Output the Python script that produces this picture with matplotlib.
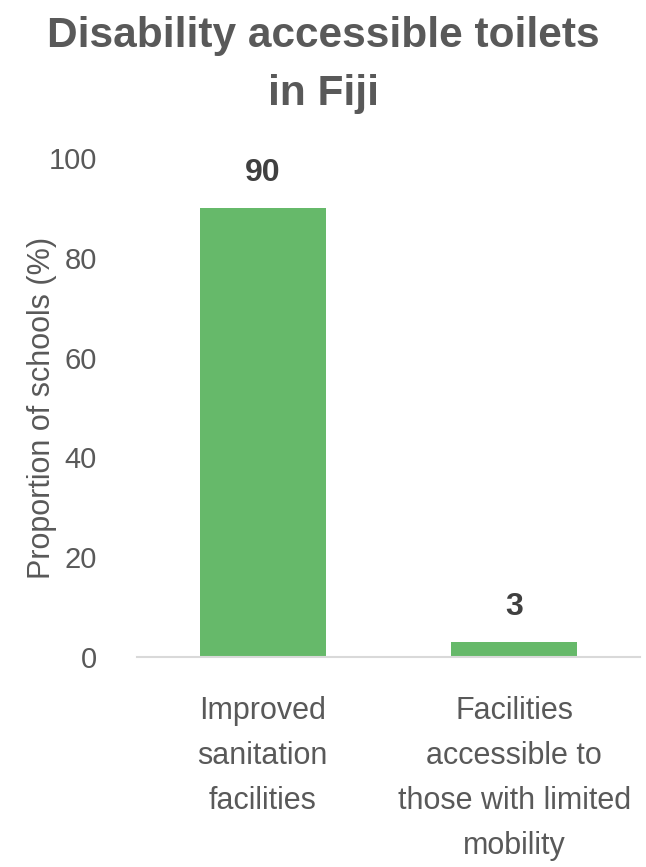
import matplotlib
matplotlib.use('Agg')
import matplotlib.pyplot as plt

categories = ['Improved\nsanitation\nfacilities',
              'Facilities\naccessible to\nthose with limited\nmobility']
values = [90, 3]
y_ticks = [0, 20, 40, 60, 80, 100]

plt.rcParams['font.family'] = ['Liberation Sans', 'DejaVu Sans']

fig = plt.figure(figsize=(6.46, 8.67), dpi=100)
ax = fig.add_axes([137 / 646, 1 - 657 / 867, 503 / 646, 499 / 867])

x = range(len(values))
ax.bar(x, values, width=0.5, color='#66b96a')
for xx, yy in zip(x, values):
    ax.text(xx, yy + 4.0, str(yy), ha='center', va='bottom', fontsize=23,
            fontweight='bold', color='#404040')

ax.set_xlim(-0.5, 1.5)
ax.set_ylim(0, 100)
ax.set_yticks(y_ticks)
ax.set_xticks(list(x))
ax.set_xticklabels(categories, fontsize=22, color='#595959', linespacing=1.65, va='top')
ax.tick_params(axis='y', labelsize=21, labelcolor='#595959', length=0, pad=29)
ax.tick_params(axis='x', length=0, pad=28)
ax.set_ylabel('Proportion of schools (%)', fontsize=22, color='#595959')
ax.yaxis.set_label_coords(-0.16, 0.5)

for s in ['top', 'right', 'left']:
    ax.spines[s].set_visible(False)
ax.spines['bottom'].set_color('#d9d9d9')
ax.spines['bottom'].set_linewidth(1.5)

fig.suptitle('Disability accessible toilets\nin Fiji', fontsize=30.5, fontweight='bold',
             color='#595959', x=0.5, y=0.982, linespacing=1.6)

plt.savefig('out.png', dpi=100)
